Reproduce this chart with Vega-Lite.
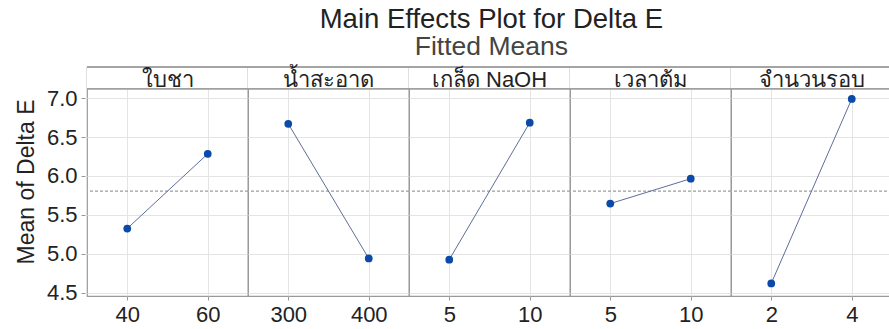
{
  "$schema": "https://vega.github.io/schema/vega-lite/v6.json",
  "background": "white",
  "padding": {"left": 15, "top": 5, "right": 0, "bottom": 0},
  "title": {
    "text": "Main Effects Plot for Delta E",
    "subtitle": "Fitted Means",
    "anchor": "middle",
    "dx": 37,
    "font": "Liberation Sans",
    "subtitleFont": "Liberation Sans",
    "fontSize": 27.5,
    "subtitleFontSize": 26.5,
    "fontWeight": "normal",
    "color": "#222222",
    "subtitleColor": "#444444",
    "subtitlePadding": 1,
    "offset": 5
  },
  "data": {
    "values": [
      {"factor": "ใบชา", "level": 40, "mean": 5.325},
      {"factor": "ใบชา", "level": 60, "mean": 6.285},
      {"factor": "น้ำสะอาด", "level": 300, "mean": 6.67},
      {"factor": "น้ำสะอาด", "level": 400, "mean": 4.94},
      {"factor": "เกล็ด NaOH", "level": 5, "mean": 4.925},
      {"factor": "เกล็ด NaOH", "level": 10, "mean": 6.685},
      {"factor": "เวลาต้ม", "level": 5, "mean": 5.645},
      {"factor": "เวลาต้ม", "level": 10, "mean": 5.965},
      {"factor": "จำนวนรอบ", "level": 2, "mean": 4.62},
      {"factor": "จำนวนรอบ", "level": 4, "mean": 6.99}
    ]
  },
  "facet": {
    "column": {
      "field": "factor",
      "type": "nominal",
      "sort": ["ใบชา", "น้ำสะอาด", "เกล็ด NaOH", "เวลาต้ม", "จำนวนรอบ"],
      "header": null
    }
  },
  "spacing": -4,
  "resolve": {"scale": {"x": "independent"}},
  "spec": {
    "width": 161,
    "height": 229,
    "encoding": {
      "y": {
        "type": "quantitative",
        "scale": {"domain": [4.458, 7.4], "nice": false, "zero": false},
        "axis": {
          "title": "Mean of Delta E",
          "values": [4.5, 5, 5.5, 6, 6.5, 7],
          "format": ".1f",
          "grid": true,
          "gridColor": "#e4e4e4",
          "domain": false,
          "tickSize": 4,
          "tickColor": "#999999",
          "labelPadding": 4,
          "labelFontSize": 22,
          "labelFont": "Liberation Sans",
          "labelColor": "#222222",
          "titleFontSize": 23,
          "titleFont": "Liberation Sans",
          "titleFontWeight": "normal",
          "titleColor": "#222222",
          "titlePadding": 8
        }
      }
    },
    "layer": [
      {
        "mark": {"type": "rect", "fill": "white", "stroke": null},
        "encoding": {"y": {"datum": 7.12}, "y2": {"datum": 7.39}}
      },
      {
        "mark": {"type": "rule", "color": "#a0a0a0", "strokeWidth": 1.5},
        "encoding": {"y": {"datum": 7.12}}
      },
      {
        "mark": {"type": "rule", "color": "#a0a0a0", "strokeWidth": 1.5},
        "encoding": {"y": {"datum": 7.4}}
      },
      {
        "mark": {"type": "rule", "color": "#aaaaaa", "strokeDash": [3, 2], "strokeWidth": 1},
        "encoding": {"y": {"datum": 5.805}}
      },
      {
        "mark": {"type": "line", "color": "#5f6d98", "strokeWidth": 1},
        "encoding": {
          "x": {
            "field": "level",
            "type": "ordinal",
            "scale": {"type": "point", "padding": 0.5},
            "axis": {
              "title": null,
              "labelAngle": 0,
              "grid": true,
              "gridColor": "#e4e4e4",
              "domain": false,
              "tickSize": 4,
              "tickColor": "#999999",
              "labelPadding": 4,
              "labelFontSize": 22,
              "labelFont": "Liberation Sans",
              "labelColor": "#222222"
            }
          },
          "y": {"field": "mean"}
        }
      },
      {
        "mark": {"type": "point", "filled": true, "size": 60, "color": "#0b4aa8", "opacity": 1},
        "encoding": {
          "x": {"field": "level", "type": "ordinal"},
          "y": {"field": "mean"}
        }
      },
      {
        "transform": [{"aggregate": [{"op": "count", "as": "n"}], "groupby": ["factor"]}],
        "mark": {"type": "text", "fontSize": 22, "font": "Liberation Sans", "color": "#222222", "baseline": "alphabetic"},
        "encoding": {
          "y": {"datum": 7.148},
          "text": {"field": "factor"}
        }
      }
    ]
  },
  "config": {
    "view": {"stroke": "#999999", "strokeWidth": 1.2}
  }
}
